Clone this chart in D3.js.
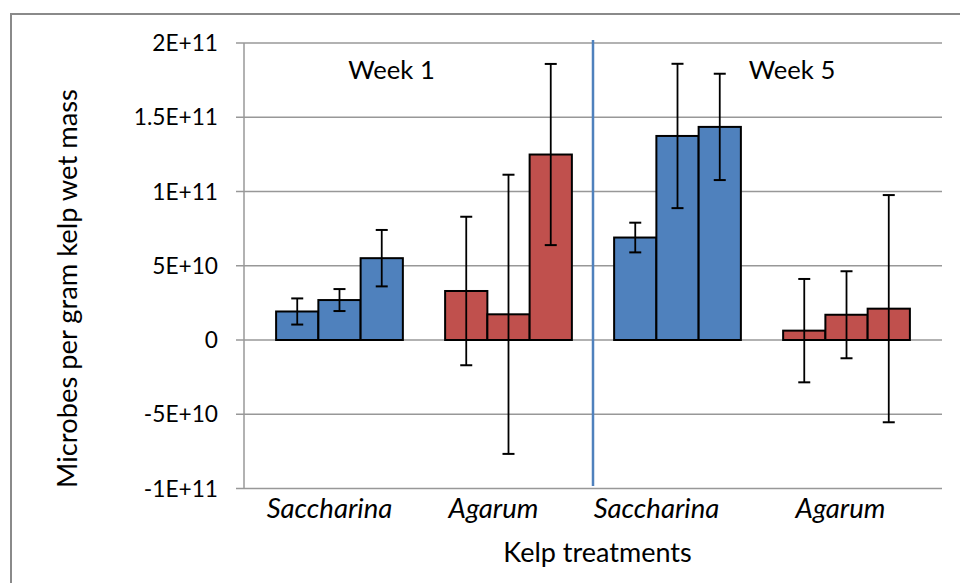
<!DOCTYPE html>
<html>
<head>
<meta charset="utf-8">
<script src="https://cdn.jsdelivr.net/npm/d3@7"></script>
<style>
  html, body { margin: 0; padding: 0; background: #fff; }
  svg { display: block; font-family: Lato, "Open Sans", sans-serif; }
</style>
</head>
<body>
<svg id="chart" width="960" height="583"></svg>
<script>
// ---- data ----
const categories = ["Saccharina", "Agarum", "Saccharina", "Agarum"];
const groupColors = ["blue", "red", "blue", "red"];
const replicates = [0, 1, 2];
const means = [
  [1.92e10, 2.69e10, 5.51e10],
  [3.30e10, 1.73e10, 1.249e11],
  [6.90e10, 1.374e11, 1.435e11],
  [0.63e10, 1.70e10, 2.11e10]
];
const errors = [
  [0.88e10, 0.74e10, 1.90e10],
  [5.00e10, 9.40e10, 6.10e10],
  [1.00e10, 4.86e10, 3.58e10],
  [3.48e10, 2.93e10, 7.65e10]
];
const yTicks = [-1e11, -5e10, 0, 5e10, 1e11, 1.5e11, 2e11];
const yTickLabels = ["-1E+11", "-5E+10", "0", "5E+10", "1E+11", "1.5E+11", "2E+11"];
const weekLabels = ["Week 1", "Week 5"];
const yTitle = "Microbes per gram kelp wet mass";
const xTitle = "Kelp treatments";

// ---- layout ----
const plot = { left: 244, right: 942, top: 43, bottom: 488.5 };
const colors = { blue: "#4F81BD", red: "#C0504D" };
const labelShift = [-10, -15, -21, -6];

const svg = d3.select("#chart");

// outer frame
svg.append("path")
  .attr("d", "M11,600 L11,14 L970,14")
  .attr("fill", "none").attr("stroke", "#8a8a8a").attr("stroke-width", 2);

const y = d3.scaleLinear().domain([-1e11, 2e11]).range([plot.bottom, plot.top]);
const x0 = d3.scaleBand().domain(d3.range(categories.length))
  .range([plot.left, plot.right]).paddingInner(0).paddingOuter(0.065);
const x1 = d3.scaleBand().domain(replicates)
  .range([0, x0.bandwidth()]).paddingInner(0).paddingOuter(0.5);

// gridlines
svg.append("g").selectAll("line").data(yTicks).join("line")
  .attr("x1", plot.left - 8).attr("x2", plot.right)
  .attr("y1", d => y(d)).attr("y2", d => y(d))
  .attr("stroke", "#989898").attr("stroke-width", 1.5);

// y axis line
svg.append("line")
  .attr("x1", plot.left).attr("x2", plot.left)
  .attr("y1", plot.top).attr("y2", plot.bottom)
  .attr("stroke", "#989898").attr("stroke-width", 1.5);

// y tick labels
svg.append("g").selectAll("text").data(yTicks).join("text")
  .attr("x", 218).attr("y", d => y(d))
  .attr("dy", "0.36em")
  .attr("text-anchor", "end")
  .attr("font-size", 22.7).attr("fill", "#000")
  .text((d, i) => yTickLabels[i]);

// bars
const groups = svg.append("g").selectAll("g").data(means).join("g")
  .attr("transform", (d, i) => `translate(${x0(i)},0)`);

groups.selectAll("rect").data((d, gi) => d.map((v, j) => ({ v, j, gi }))).join("rect")
  .attr("x", d => x1(d.j))
  .attr("width", x1.bandwidth())
  .attr("y", d => Math.min(y(d.v), y(0)))
  .attr("height", d => Math.abs(y(0) - y(d.v)))
  .attr("fill", d => colors[groupColors[d.gi]])
  .attr("stroke", "#000").attr("stroke-width", 2);

// error bars
const eb = groups.selectAll("g.err").data((d, gi) => d.map((v, j) => ({ v, j, e: errors[gi][j] }))).join("g")
  .attr("class", "err")
  .attr("transform", d => `translate(${x1(d.j) + x1.bandwidth() / 2},0)`);
eb.append("line")
  .attr("x1", 0).attr("x2", 0)
  .attr("y1", d => y(d.v + d.e)).attr("y2", d => y(d.v - d.e))
  .attr("stroke", "#000").attr("stroke-width", 1.8);
eb.append("line")
  .attr("x1", -6).attr("x2", 6)
  .attr("y1", d => y(d.v + d.e)).attr("y2", d => y(d.v + d.e))
  .attr("stroke", "#000").attr("stroke-width", 2);
eb.append("line")
  .attr("x1", -6).attr("x2", 6)
  .attr("y1", d => y(d.v - d.e)).attr("y2", d => y(d.v - d.e))
  .attr("stroke", "#000").attr("stroke-width", 2);

// divider between weeks
const divX = (x0(1) + x0.bandwidth() + x0(2)) / 2;
svg.append("line")
  .attr("x1", divX).attr("x2", divX)
  .attr("y1", 40).attr("y2", 486)
  .attr("stroke", colors.blue).attr("stroke-width", 2.5);

// week labels
svg.append("text").attr("x", 391.5).attr("y", 79)
  .attr("text-anchor", "middle").attr("font-size", 25.6).text(weekLabels[0]);
svg.append("text").attr("x", 792).attr("y", 79)
  .attr("text-anchor", "middle").attr("font-size", 25.6).text(weekLabels[1]);

// category labels
svg.append("g").selectAll("text").data(categories).join("text")
  .attr("x", (d, i) => x0(i) + x0.bandwidth() / 2 + labelShift[i])
  .attr("y", 518)
  .attr("text-anchor", "middle")
  .attr("font-size", 27.5).attr("font-style", "italic")
  .text(d => d);

// axis titles
svg.append("text").attr("x", 597.5).attr("y", 562)
  .attr("text-anchor", "middle").attr("font-size", 27).text(xTitle);
svg.append("text")
  .attr("transform", "translate(77,288.5) rotate(-90)")
  .attr("text-anchor", "middle").attr("font-size", 27.3).text(yTitle);
</script>
</body>
</html>
